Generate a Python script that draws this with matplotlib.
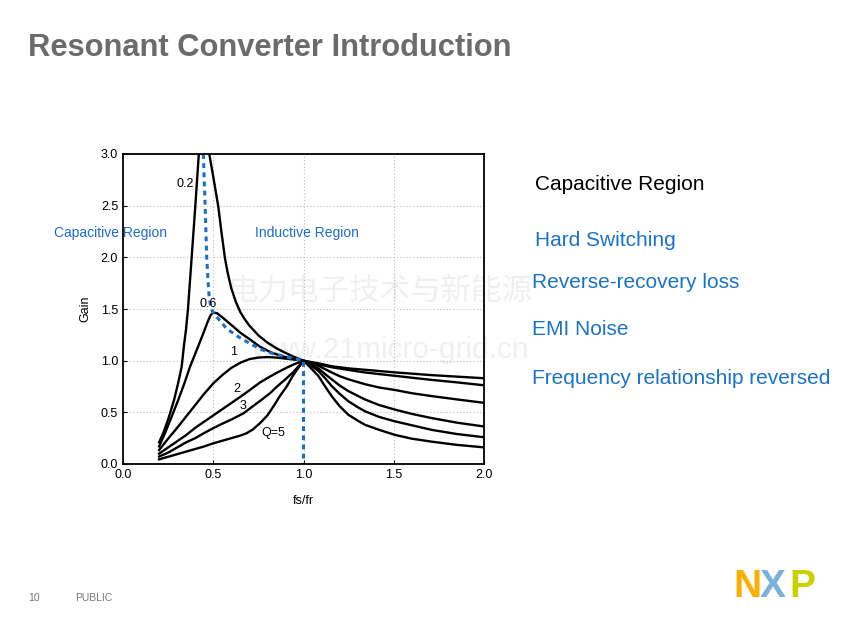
import matplotlib
matplotlib.use("Agg")
import matplotlib.pyplot as plt

# gain curves (fs/fr, gain)
q02_x = [0.20, 0.223, 0.25, 0.283, 0.305, 0.325, 0.338, 0.349, 0.36, 0.38, 0.40, 0.42, 0.45,
         0.478, 0.50, 0.528, 0.545, 0.565, 0.58, 0.60, 0.625, 0.65, 0.675, 0.70, 0.75, 0.80, 0.85,
         0.90, 0.95, 1.0, 1.08, 1.16, 1.25, 1.34, 1.51, 1.71, 2.0]
q02_y = [0.21, 0.30, 0.43, 0.62, 0.78, 0.94, 1.15, 1.30, 1.50, 1.99, 2.48, 3.0, 3.7,
         3.0, 2.78, 2.49, 2.25, 1.99, 1.85, 1.70, 1.57, 1.47, 1.40, 1.34, 1.245, 1.175, 1.12,
         1.075, 1.035, 1.0, 0.975, 0.945, 0.925, 0.912, 0.886, 0.86, 0.83]

q06_x = [0.20, 0.233, 0.27, 0.306, 0.34, 0.371, 0.41, 0.445, 0.47, 0.485, 0.50, 0.52, 0.55, 0.58,
         0.611, 0.65, 0.70, 0.759, 0.82, 0.888, 0.95, 1.0, 1.08, 1.16, 1.25, 1.34, 1.42, 1.51, 1.6,
         1.71, 1.85, 2.0]
q06_y = [0.17, 0.30, 0.46, 0.62, 0.78, 0.94, 1.11, 1.265, 1.38, 1.44, 1.465, 1.46, 1.42, 1.375,
         1.33, 1.27, 1.21, 1.135, 1.08, 1.04, 1.015, 1.0, 0.965, 0.935, 0.91, 0.886, 0.87, 0.853, 0.835,
         0.814, 0.79, 0.762]

q1_x = [0.20, 0.25, 0.30, 0.35, 0.40, 0.45, 0.50, 0.55, 0.60, 0.65, 0.70, 0.75, 0.80, 0.85, 0.90,
        0.95, 1.0, 1.04, 1.082, 1.156, 1.20, 1.248, 1.341, 1.42, 1.508, 1.60, 1.711, 1.85, 2.0]
q1_y = [0.135, 0.245, 0.35, 0.46, 0.57, 0.68, 0.78, 0.86, 0.93, 0.98, 1.015, 1.03, 1.035, 1.03, 1.02,
        1.01, 1.0, 0.975, 0.951, 0.886, 0.85, 0.82, 0.772, 0.74, 0.716, 0.685, 0.657, 0.625, 0.592]

q2_x = [0.20, 0.25, 0.30, 0.35, 0.40, 0.45, 0.50, 0.55, 0.60, 0.65, 0.704, 0.76, 0.815, 0.86, 0.91,
        0.952, 1.0, 1.04, 1.082, 1.12, 1.156, 1.20, 1.248, 1.30, 1.341, 1.42, 1.508, 1.60, 1.711,
        1.85, 2.0]
q2_y = [0.10, 0.16, 0.22, 0.28, 0.35, 0.41, 0.47, 0.53, 0.59, 0.65, 0.718, 0.79, 0.847, 0.89, 0.935,
        0.968, 1.0, 0.965, 0.925, 0.87, 0.82, 0.76, 0.706, 0.66, 0.624, 0.57, 0.526, 0.485, 0.444,
        0.40, 0.363]

q3_x = [0.20, 0.25, 0.30, 0.35, 0.40, 0.45, 0.50, 0.55, 0.60, 0.667, 0.72, 0.767, 0.815, 0.86, 0.90,
        0.944, 1.0, 1.04, 1.082, 1.12, 1.156, 1.20, 1.248, 1.30, 1.341, 1.42, 1.508, 1.60, 1.711,
        1.85, 2.0]
q3_y = [0.072, 0.11, 0.16, 0.21, 0.25, 0.30, 0.347, 0.39, 0.43, 0.49, 0.56, 0.62, 0.686, 0.76, 0.82,
        0.89, 1.0, 0.955, 0.902, 0.83, 0.755, 0.68, 0.608, 0.55, 0.51, 0.455, 0.412, 0.375, 0.33,
        0.29, 0.259]

q5_x = [0.20, 0.25, 0.30, 0.35, 0.40, 0.45, 0.50, 0.55, 0.60, 0.65, 0.685, 0.72, 0.759, 0.80, 0.833,
        0.87, 0.907, 0.94, 0.963, 1.0, 1.04, 1.082, 1.12, 1.156, 1.20, 1.248, 1.30, 1.341, 1.42,
        1.508, 1.60, 1.711, 1.85, 2.0]
q5_y = [0.045, 0.07, 0.095, 0.12, 0.145, 0.17, 0.20, 0.225, 0.25, 0.275, 0.298, 0.335, 0.395, 0.47,
        0.556, 0.66, 0.75, 0.85, 0.91, 1.0, 0.93, 0.853, 0.75, 0.657, 0.56, 0.477, 0.42, 0.379, 0.33,
        0.281, 0.245, 0.216, 0.185, 0.161]

peak_x = [0.445, 0.455, 0.464, 0.472, 0.478, 0.49, 0.50, 0.54, 0.574, 0.64, 0.704, 0.77, 0.833,
          0.92, 1.0, 1.0]
peak_y = [3.0, 2.5, 1.99, 1.75, 1.6, 1.5, 1.465, 1.38, 1.31, 1.23, 1.165, 1.105, 1.067,
          1.03, 1.0, 0.0]

curve_labels = ['0.2', '0.6', '1', '2', '3', 'Q=5']
label_x = [0.344, 0.47, 0.61, 0.632, 0.665, 0.83]
label_y = [2.71, 1.55, 1.08, 0.73, 0.56, 0.30]

points = ['Hard Switching', 'Reverse-recovery loss', 'EMI Noise', 'Frequency relationship reversed']

plt.rcParams['font.family'] = ['Liberation Sans', 'DejaVu Sans']

fig = plt.figure(figsize=(8.53, 6.37), dpi=100)
fig.patch.set_facecolor('white')

fig.text(28 / 853, 1 - 48 / 637, 'Resonant Converter Introduction', fontsize=22.2, fontweight='bold',
         color='#6b6b6b', va='center', ha='left')

# watermark
fig.text(380 / 853, 1 - 291 / 637, '电力电子技术与新能源', fontsize=22, color='#f0f0f0',
         family=['Noto Sans CJK SC', 'DejaVu Sans'], ha='center', va='center', zorder=-1)
fig.text(390 / 853, 1 - 350 / 637, 'www.21micro-grid.cn', fontsize=21.5, color='#f0f0f0',
         ha='center', va='center', zorder=-1)

ax = fig.add_axes([123 / 853, 1 - 464 / 637, 361 / 853, 310 / 637])
ax.patch.set_alpha(0)
for xs, ys in [(q02_x, q02_y), (q06_x, q06_y), (q1_x, q1_y), (q2_x, q2_y), (q3_x, q3_y), (q5_x, q5_y)]:
    ax.plot(xs, ys, color='black', lw=1.7, solid_joinstyle='round')
ax.plot(peak_x, peak_y, color='#1a6fc9', lw=2.2, linestyle=(0, (1.6, 1.4)))

for t, x, y in zip(curve_labels, label_x, label_y):
    ax.text(x, y, t, fontsize=9, ha='center', va='center', color='black')

ax.set_xlim(0, 2)
ax.set_ylim(0, 3)
ax.set_xticks([0, 0.5, 1.0, 1.5, 2.0])
ax.set_yticks([0, 0.5, 1.0, 1.5, 2.0, 2.5, 3.0])
ax.set_xticklabels(['0.0', '0.5', '1.0', '1.5', '2.0'])
ax.set_yticklabels(['0.0', '0.5', '1.0', '1.5', '2.0', '2.5', '3.0'])
ax.tick_params(labelsize=9, direction='in', length=3)
ax.grid(True, color='#bbbbbb', linestyle=(0, (1, 2)), lw=0.8)
for s in ax.spines.values():
    s.set_linewidth(1.3)
ax.set_xlabel('fs/fr', fontsize=9, labelpad=10)
ax.set_ylabel('Gain', fontsize=9, labelpad=7)

fig.text(54 / 853, 1 - 233 / 637, 'Capacitive Region', fontsize=10, color='#1a6fc9', va='center')
fig.text(255 / 853, 1 - 233 / 637, 'Inductive Region', fontsize=10, color='#1a6fc9', va='center')

fig.text(535 / 853, 1 - 185 / 637, 'Capacitive Region', fontsize=15, color='black', va='center')
for i, t in enumerate(points):
    y = [241, 283, 330, 378][i]
    fig.text((535 if i == 0 else 532) / 853, 1 - y / 637, t, fontsize=15, color='#1a73c8', va='center')

fig.text(28 / 853, 1 - 598 / 637, '10', fontsize=7.5, color='#777777', va='center')
fig.text(75 / 853, 1 - 598 / 637, 'PUBLIC', fontsize=7.5, color='#777777', va='center')

# NXP logo
fig.text(733 / 853, 1 - 587 / 637, 'N', fontsize=28, fontweight='bold', color='#f9b000', va='center')
fig.text(760 / 853, 1 - 587 / 637, 'X', fontsize=28, fontweight='bold', color='#7bb1db', va='center')
fig.text(789 / 853, 1 - 587 / 637, 'P', fontsize=28, fontweight='bold', color='#c9d200', va='center')

fig.savefig('out.png', dpi=100)
